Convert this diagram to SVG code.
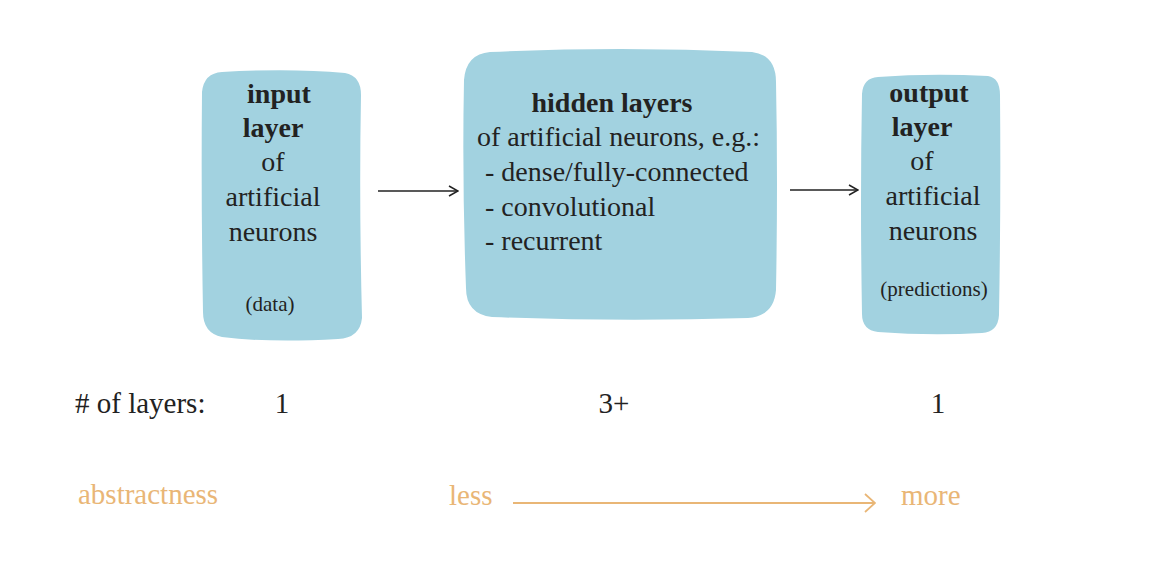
<svg xmlns="http://www.w3.org/2000/svg" width="1174" height="570" viewBox="0 0 1174 570">
<defs>
<style>
.box{fill:#a2d2e0;}
.t{font-family:"Liberation Serif","DejaVu Serif",serif;font-size:28px;fill:#222;}
.b{font-weight:bold;}
.s{font-size:21px;}
.g{font-size:29px;}
.o{fill:#e9b676;}
.c{text-anchor:middle;}
.ln{stroke:#222;stroke-width:1.5;fill:none;}
.lo{stroke:#e9b676;stroke-width:1.8;fill:none;}
</style>
<marker id="ah" viewBox="0 0 12 12" refX="11" refY="6" markerWidth="12" markerHeight="12" markerUnits="userSpaceOnUse" orient="auto">
<path d="M2,1 L11,6 L2,11" fill="none" stroke="#222" stroke-width="1.5"/>
</marker>
<marker id="aho" viewBox="0 0 14 20" refX="13" refY="10" markerWidth="14" markerHeight="20" markerUnits="userSpaceOnUse" orient="auto">
<path d="M3,1 L13,10 L3,19" fill="none" stroke="#e9b676" stroke-width="1.8"/>
</marker>
</defs>
<rect width="1174" height="570" fill="#ffffff"/>
<g id="input-layer">
<path class="box" d="M222,72 Q290,68 345,73 Q361,76 361,95 Q359,200 362,318 Q360,338 338,339 Q270,343 222,337 Q203,333 203,312 Q201,200 202,92 Q204,73 222,72 Z"/>
<text class="t b c" x="279" y="103">input</text>
<text class="t b c" x="273" y="137">layer</text>
<text class="t c" x="273" y="171">of</text>
<text class="t c" x="273" y="206">artificial</text>
<text class="t c" x="273" y="241">neurons</text>
<text class="t s c" x="270" y="311">(data)</text>
</g>
<g id="hidden-layers">
<path class="box" d="M490,52 Q620,46 752,52 Q776,55 776,82 Q778,180 776,290 Q774,316 748,318 Q620,322 492,317 Q466,314 466,288 Q462,180 464,80 Q466,54 490,52 Z"/>
<text class="t b c" x="612" y="112">hidden layers</text>
<text class="t" x="477" y="146">of artificial neurons, e.g.:</text>
<text class="t" x="485" y="181">- dense/fully-connected</text>
<text class="t" x="485" y="216">- convolutional</text>
<text class="t" x="485" y="250">- recurrent</text>
</g>
<g id="output-layer">
<path class="box" d="M878,77 Q930,73 988,76 Q1000,78 1000,95 Q1001,200 999,315 Q998,332 982,333 Q930,336 878,332 Q862,330 862,314 Q860,200 862,94 Q863,78 878,77 Z"/>
<text class="t b c" x="929" y="102">output</text>
<text class="t b c" x="922" y="136">layer</text>
<text class="t c" x="922" y="170">of</text>
<text class="t c" x="933" y="205">artificial</text>
<text class="t c" x="933" y="240">neurons</text>
<text class="t s c" x="934" y="296">(predictions)</text>
</g>
<g id="connectors">
<line class="ln" x1="378" y1="191" x2="458" y2="191" marker-end="url(#ah)"/>
<line class="ln" x1="790" y1="190" x2="858" y2="190" marker-end="url(#ah)"/>
<line class="lo" x1="513" y1="503" x2="875" y2="503" marker-end="url(#aho)"/>
</g>
<g id="labels">
<text class="t g" x="75" y="413"># of layers:</text>
<text class="t g c" x="282" y="413">1</text>
<text class="t g c" x="614" y="413">3+</text>
<text class="t g c" x="938" y="413">1</text>
<text class="t g o" x="78" y="504">abstractness</text>
<text class="t g o" x="449" y="505">less</text>
<text class="t g o" x="901" y="505">more</text>
</g>
</svg>
